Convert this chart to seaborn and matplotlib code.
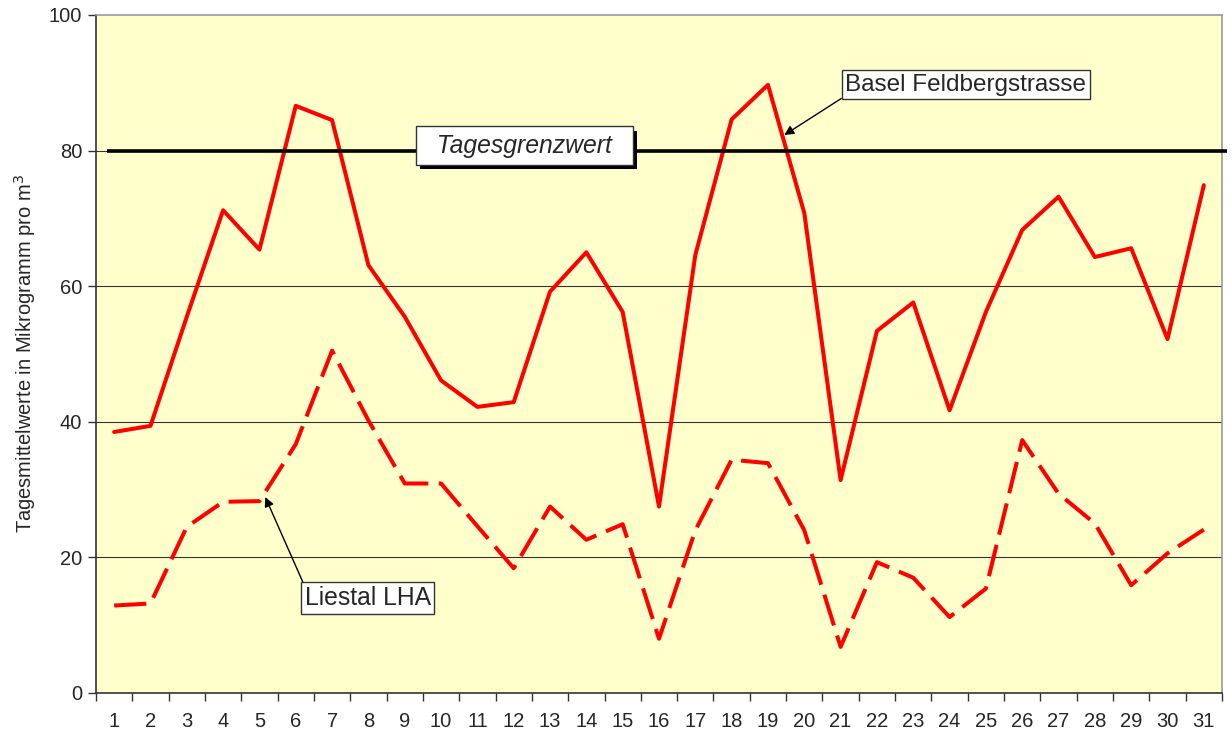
import numpy as np
import pandas as pd
import matplotlib
matplotlib.use("Agg")
import matplotlib.pyplot as plt
import matplotlib.patheffects as pe
import seaborn as sns

# Tageswerte (Tag 1..31)
tage = list(range(1, 32))
basel = [38.5, 39.4, 55.5, 71.2, 65.4, 86.6, 84.5, 63.1, 55.5, 46.1,
         42.2, 42.9, 59.2, 65.0, 56.2, 27.5, 64.6, 84.6, 89.7, 70.8,
         31.4, 53.4, 57.6, 41.7, 56.2, 68.3, 73.2, 64.3, 65.6, 52.2, 74.9]
liestal = [12.9, 13.2, 24.5, 28.2, 28.3, 36.7, 50.5, 40.2, 30.9, 30.9,
           24.6, 18.4, 27.5, 22.6, 24.9, 8.0, 24.0, 34.4, 33.9, 24.0,
           6.8, 19.3, 17.0, 11.2, 15.4, 37.3, 29.4, 25.0, 15.9, 20.6, 24.1]
grenzwert = 80
y_ticks = [0, 20, 40, 60, 80, 100]

df = pd.DataFrame({"Tag": tage, "Basel Feldbergstrasse": basel, "Liestal LHA": liestal})

sns.set_style("white")
plt.rcParams["font.family"] = ["Liberation Sans", "DejaVu Sans"]

fig = plt.figure(figsize=(12.32, 7.35), dpi=100)
ax = fig.add_axes([96 / 1232, 42 / 735, 1126 / 1232, 678 / 735])
ax.set_facecolor("#FFFFCC")

# Gitterlinien
for v in y_ticks[1:-1]:
    ax.axhline(v, color="#333333", lw=0.8, zorder=1)

sns.lineplot(data=df, x="Tag", y="Basel Feldbergstrasse", color="#FF0000",
             lw=2.9, ax=ax, zorder=3)
sns.lineplot(data=df, x="Tag", y="Liestal LHA", color="#FF0000",
             lw=2.9, ax=ax, zorder=3, dashes=(8, 2.6))

# Grenzwert-Linie
ax.plot([0.8, 31.63], [grenzwert, grenzwert], color="black", lw=2.6, zorder=4,
        clip_on=False, solid_capstyle="butt")

ax.set_xlim(0.5, 31.5)
ax.set_ylim(0, 100)
ax.set_xticks(tage)
ax.set_xticklabels([str(t) for t in tage], fontsize=14.5)
ax.set_xticks(np.arange(0.5, 32, 1), minor=True)
ax.tick_params(axis="x", which="major", length=0, pad=14)
ax.tick_params(axis="x", which="minor", length=6, width=1, color="#333333",
               direction="out", bottom=True)
ax.set_yticks(y_ticks)
ax.set_yticklabels([str(v) for v in y_ticks], fontsize=14.5)
ax.tick_params(axis="y", length=6, width=1, color="#333333", direction="out", left=True, pad=4)
ax.set_xlabel("")
ax.set_ylabel("Tagesmittelwerte in Mikrogramm pro m$^3$", fontsize=14.5, labelpad=8)

for s in ["left", "bottom"]:
    ax.spines[s].set_color("#333333")
    ax.spines[s].set_linewidth(1.2)
for s in ["top", "right"]:
    ax.spines[s].set_color("#999999")
    ax.spines[s].set_linewidth(1.2)

# Beschriftungen
t = ax.text(12.29, 80.7, "  Tagesgrenzwert  ", fontsize=17.8, fontstyle="italic",
            ha="center", va="center", zorder=6,
            bbox=dict(boxstyle="square,pad=0.3", fc="white", ec="#333333", lw=1))
t.get_bbox_patch().set_path_effects([
    pe.SimplePatchShadow(offset=(3, -3), shadow_rgbFace="black", alpha=1),
    pe.Normal()])

ax.annotate("Basel Feldbergstrasse", xy=(19.45, 82.3), xytext=(24.45, 89.7),
            fontsize=17.5, ha="center", va="center", zorder=6,
            bbox=dict(boxstyle="square,pad=0.15", fc="white", ec="#333333", lw=1),
            arrowprops=dict(arrowstyle="-|>", color="black", lw=1,
                            mutation_scale=14, shrinkA=0, shrinkB=0,
                            relpos=(0, 0)))

ax.annotate("Liestal LHA", xy=(5.16, 28.9), xytext=(7.98, 14.0),
            fontsize=17.8, ha="center", va="center", zorder=6,
            bbox=dict(boxstyle="square,pad=0.15", fc="white", ec="#333333", lw=1),
            arrowprops=dict(arrowstyle="-|>", color="black", lw=1,
                            mutation_scale=14, shrinkA=0, shrinkB=0,
                            relpos=(0, 1)))

fig.savefig("out.png", dpi=100)
